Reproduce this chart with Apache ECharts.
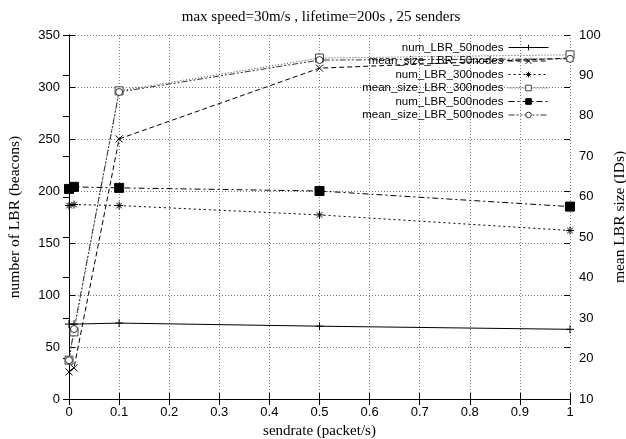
<!DOCTYPE html>
<html><head><meta charset="utf-8">
<script src="https://cdn.jsdelivr.net/npm/echarts@6/dist/echarts.min.js"></script>
<style>html,body{margin:0;padding:0;background:#fff}#c{width:626px;height:439px}</style>
</head><body><div id="c"></div>
<script>
const sendrate = [0, 0.01, 0.1, 0.5, 1];
const num50 = [72, 72, 73, 70, 67];
const meanSize50 = [16.7, 17.7, 74.3, 91.8, 94.3];
const num300 = [186, 187, 186, 177, 162];
const meanSize300 = [19.6, 26.6, 86.2, 94.3, 95.1];
const num500 = [202, 204, 203, 200, 185];
const meanSize500 = [19.6, 27.3, 85.9, 93.8, 94.1];
const seriesNames = ['num_LBR_50nodes','mean_size_LBR_50nodes','num_LBR_300nodes','mean_size_LBR_300nodes','num_LBR_500nodes','mean_size_LBR_500nodes'];

const zip = a => sendrate.map((x,i)=>[x,a[i]]);
const plusSym = 'path://M0,5L10,5M5,0L5,10';
const crossSym = 'path://M0,0L10,10M0,10L10,0';
const starSym = 'path://M0,5L10,5M5,0L5,10M1.5,1.5L8.5,8.5M1.5,8.5L8.5,1.5';
const sans = 'Liberation Sans';
const serif = 'Liberation Serif';

function mk(name, data, yIdx, dash, sym, symSize, color, fill){
  return {name, type:'line', data:zip(data), yAxisIndex:yIdx, symbol:sym, symbolSize:symSize,
    showAllSymbol:true,
    lineStyle:{color:color, width:1, type:dash},
    itemStyle:{color:fill, borderColor:color, borderWidth:1},
    emphasis:{disabled:true}, animation:false};
}
const chart = echarts.init(document.getElementById('c'), null, {renderer:'canvas'});
chart.setOption({
  animation:false,
  backgroundColor:'#fff',
  title:{text:'max speed=30m/s , lifetime=200s , 25 senders', left:316, textAlign:'center', top:5,
    textStyle:{fontFamily:serif, fontWeight:'normal', fontSize:15, color:'#000'}},
  grid:{left:69, right:56, top:35, bottom:40, containLabel:false, outerBoundsMode:'none'},
  legend:{orient:'vertical', right:72, top:39, align:'right', itemWidth:40, itemHeight:7, itemGap:0.5,
    padding:[2,5,2,5],
    lineStyle:{width:1}, itemStyle:{borderWidth:1},
    textStyle:{fontFamily:sans, fontSize:11.5, color:'#000', padding:[0,0,0,0], lineHeight:13},
    data:seriesNames},
  xAxis:[{type:'value', min:0, max:1, interval:0.1, position:'bottom',
    name:'sendrate (packet/s)', nameLocation:'middle', nameGap:24,
    nameTextStyle:{fontFamily:serif, fontSize:15, color:'#000'},
    axisLine:{lineStyle:{color:'#000'}},
    axisTick:{inside:true, length:6, lineStyle:{color:'#000'}},
    axisLabel:{fontFamily:sans, fontSize:13, color:'#000', margin:7, formatter:v=>String(+v.toFixed(1))},
    splitLine:{show:true, lineStyle:{color:'#777', type:[1,2], width:1}}},
   {type:'value', min:0, max:1, interval:0.1, position:'top',
    axisLine:{show:true, lineStyle:{color:'#000'}},
    axisTick:{inside:true, length:6, lineStyle:{color:'#000'}},
    axisLabel:{show:false}, splitLine:{show:false}}],
  yAxis:[{type:'value', min:0, max:350, interval:50, position:'left',
    name:'number of LBR (beacons)', nameLocation:'middle', nameGap:46, nameRotate:90,
    nameTextStyle:{fontFamily:serif, fontSize:15.5, color:'#000'},
    axisLine:{show:true, lineStyle:{color:'#000'}},
    axisTick:{show:true, inside:true, length:6, lineStyle:{color:'#000'}},
    axisLabel:{fontFamily:sans, fontSize:13, color:'#000', margin:9},
    splitLine:{show:true, lineStyle:{color:'#777', type:[1,2], width:1}}},
   {type:'value', min:10, max:100, interval:10, position:'right',
    name:'mean LBR size (IDs)', nameLocation:'middle', nameGap:38, nameRotate:90,
    nameTextStyle:{fontFamily:serif, fontSize:15.5, color:'#000'},
    axisLine:{show:true, lineStyle:{color:'#000'}},
    axisTick:{show:true, inside:true, length:6, lineStyle:{color:'#000'}},
    axisLabel:{fontFamily:sans, fontSize:13, color:'#000', margin:9},
    splitLine:{show:false}},
   {type:'value', min:0, max:350, interval:50, position:'right',
    axisLine:{show:false}, axisTick:{show:true, inside:true, length:6, lineStyle:{color:'#000'}},
    axisLabel:{show:false}, splitLine:{show:false}}],
  series:[
    mk(seriesNames[0], num50, 0, 'solid', plusSym, 8, '#000', 'transparent'),
    mk(seriesNames[1], meanSize50, 1, [5,3], crossSym, 7, '#000', 'transparent'),
    mk(seriesNames[2], num300, 0, [2,3], starSym, 8, '#000', 'transparent'),
    mk(seriesNames[3], meanSize300, 1, [1,2], 'rect', 8, '#444', '#fff'),
    mk(seriesNames[4], num500, 0, [6,3,2,3], 'rect', 9, '#000', '#000'),
    mk(seriesNames[5], meanSize500, 1, [6,2,2,2,2,2], 'circle', 7, '#333', '#fff')
  ]
});
</script></body></html>
